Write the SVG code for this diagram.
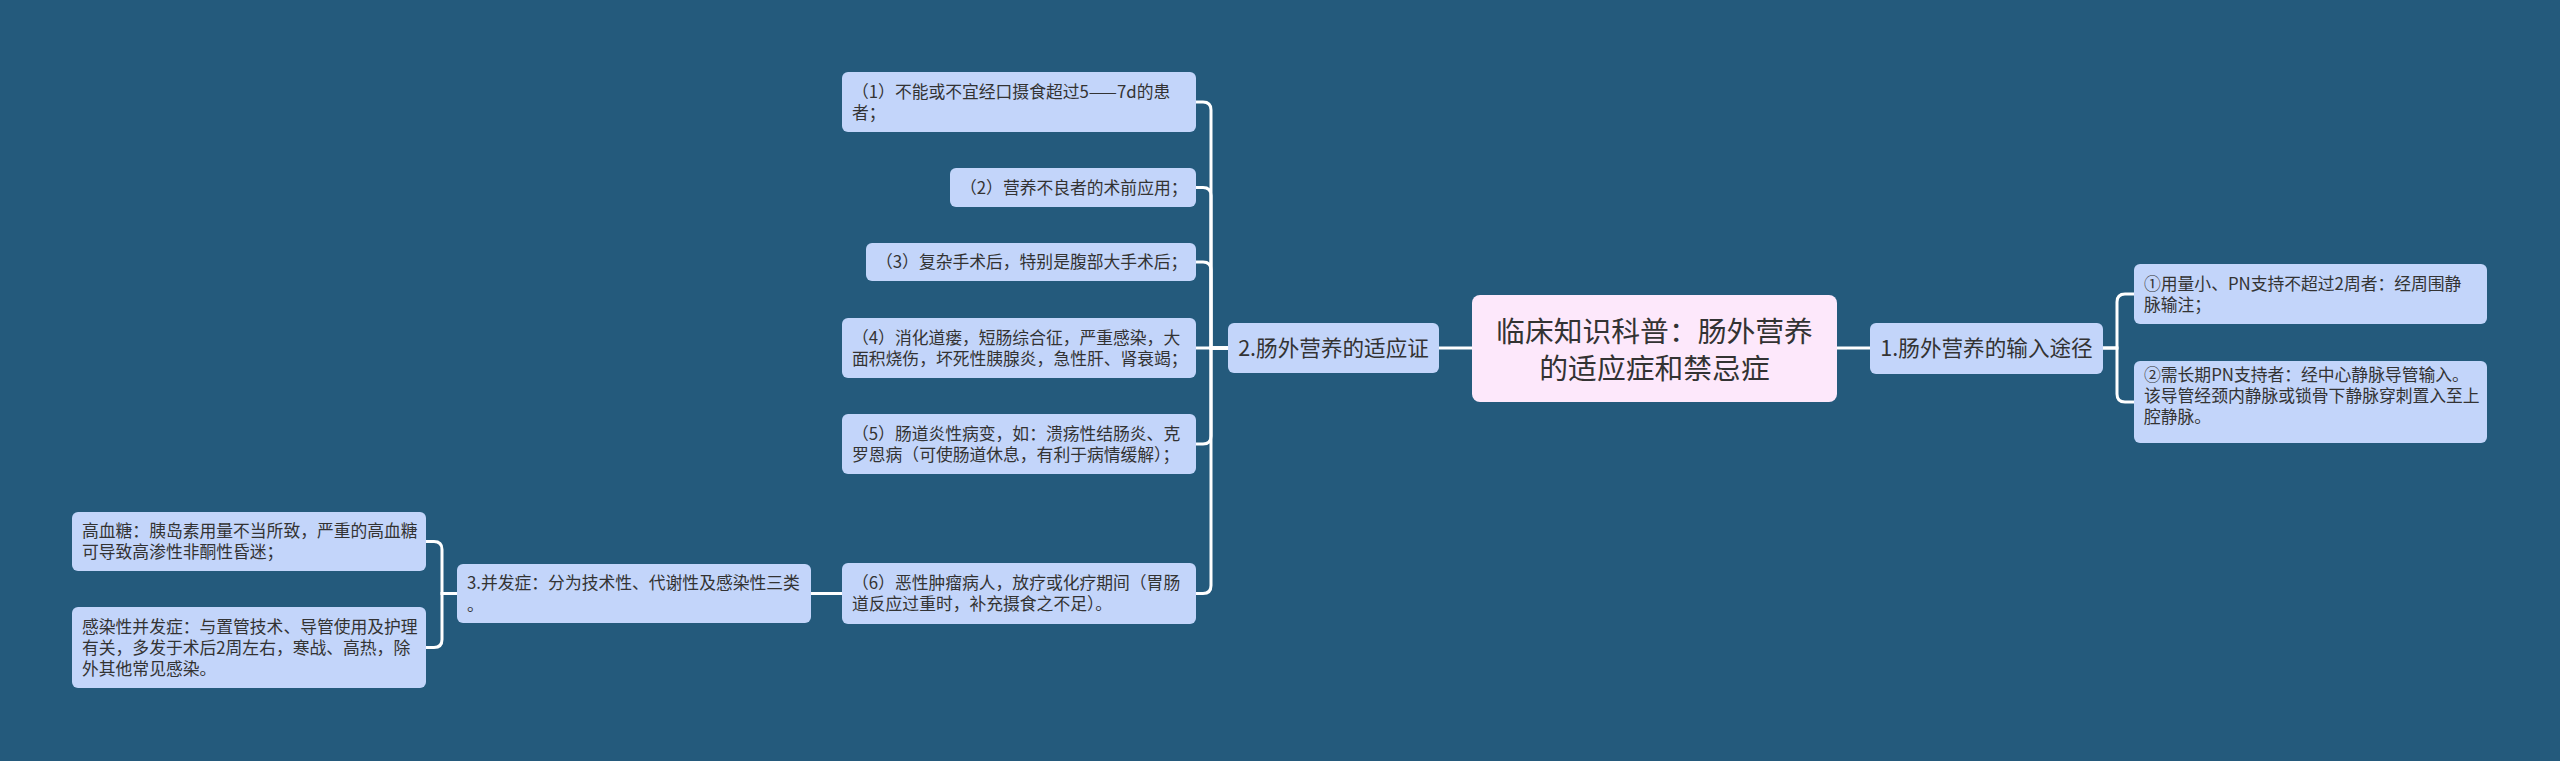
<svg xmlns="http://www.w3.org/2000/svg" width="2560" height="761" viewBox="0 0 2560 761">
<style>
.bg{fill:#245a7c}
.nd{fill:#c3d5fa}
.ct{fill:#fde8fb}
.ln{fill:none;stroke:#ffffff;stroke-width:3;stroke-linecap:round}
text{font-family:"Noto Sans CJK SC","Noto Sans",sans-serif;fill:#333333}
.s{font-size:16.8px}
.m{font-size:21.6px;text-anchor:middle}
.c{font-size:28.8px;text-anchor:middle}
</style>
<rect class="bg" x="0" y="0" width="2560" height="761"/>
<g id="connectors">
<path class="ln" d="M1472 348 H1439"/>
<path class="ln" d="M1837 348 H1870"/>
<path class="ln" d="M2103 348 H2117 V302 Q2117 294 2125 294 H2134"/>
<path class="ln" d="M2103 348 H2117 V394 Q2117 402 2125 402 H2134"/>
<path class="ln" d="M1228 348 H1211 V110 Q1211 102 1203 102 H1196"/>
<path class="ln" d="M1228 348 H1211 V195.5 Q1211 187.5 1203 187.5 H1196"/>
<path class="ln" d="M1228 348 H1211 V270 Q1211 262 1203 262 H1196"/>
<path class="ln" d="M1228 348 H1196"/>
<path class="ln" d="M1228 348 H1211 V436 Q1211 444 1203 444 H1196"/>
<path class="ln" d="M1228 348 H1211 V585.5 Q1211 593.5 1203 593.5 H1196"/>
<path class="ln" d="M842 593.5 H811"/>
<path class="ln" d="M457 593.5 H442 V549.5 Q442 541.5 434 541.5 H426"/>
<path class="ln" d="M457 593.5 H442 V639.5 Q442 647.5 434 647.5 H426"/>
</g>
<g id="root">
<rect class="ct" x="1472" y="295" width="365" height="107" rx="8"/>
<text class="c" x="1654.5"><tspan x="1654.5" y="342">临床知识科普：肠外营养</tspan><tspan x="1654.5" y="379">的适应症和禁忌症</tspan></text>
</g>
<g id="n1">
<rect class="nd" x="1870" y="323" width="233" height="51" rx="6"/>
<text class="m" x="1986.5" y="356">1.肠外营养的输入途径</text>
</g>
<g id="n1a">
<rect class="nd" x="2134" y="264" width="353" height="60" rx="6"/>
<text class="s"><tspan x="2144" y="289.5">①用量小、PN支持不超过2周者：经周围静</tspan><tspan x="2144" y="310.5">脉输注；</tspan></text>
</g>
<g id="n1b">
<rect class="nd" x="2134" y="361" width="353" height="82" rx="6"/>
<text class="s"><tspan x="2144" y="381">②需长期PN支持者：经中心静脉导管输入。</tspan><tspan x="2144" y="402">该导管经颈内静脉或锁骨下静脉穿刺置入至上</tspan><tspan x="2144" y="423">腔静脉。</tspan></text>
</g>
<g id="n2">
<rect class="nd" x="1228" y="323" width="211" height="50" rx="6"/>
<text class="m" x="1333.5" y="356">2.肠外营养的适应证</text>
</g>
<g id="n2a">
<rect class="nd" x="842" y="72" width="354" height="60" rx="6"/>
<text class="s"><tspan x="852" y="97.5">（1）不能或不宜经口摄食超过5——7d的患</tspan><tspan x="852" y="118.5">者；</tspan></text>
</g>
<g id="n2b">
<rect class="nd" x="950" y="168" width="246" height="39" rx="6"/>
<text class="s" x="960" y="193.5">（2）营养不良者的术前应用；</text>
</g>
<g id="n2c">
<rect class="nd" x="866" y="243" width="330" height="38" rx="6"/>
<text class="s" x="876" y="268">（3）复杂手术后，特别是腹部大手术后；</text>
</g>
<g id="n2d">
<rect class="nd" x="842" y="318" width="354" height="60" rx="6"/>
<text class="s"><tspan x="852" y="343.5">（4）消化道瘘，短肠综合征，严重感染，大</tspan><tspan x="852" y="364.5">面积烧伤，坏死性胰腺炎，急性肝、肾衰竭；</tspan></text>
</g>
<g id="n2e">
<rect class="nd" x="842" y="414" width="354" height="60" rx="6"/>
<text class="s"><tspan x="852" y="439.5">（5）肠道炎性病变，如：溃疡性结肠炎、克</tspan><tspan x="852" y="460.5">罗恩病（可使肠道休息，有利于病情缓解）；</tspan></text>
</g>
<g id="n2f">
<rect class="nd" x="842" y="563" width="354" height="61" rx="6"/>
<text class="s"><tspan x="852" y="589">（6）恶性肿瘤病人，放疗或化疗期间（胃肠</tspan><tspan x="852" y="610">道反应过重时，补充摄食之不足）。</tspan></text>
</g>
<g id="n3">
<rect class="nd" x="457" y="564" width="354" height="59" rx="6"/>
<text class="s"><tspan x="467" y="589">3.并发症：分为技术性、代谢性及感染性三类</tspan><tspan x="467" y="611">。</tspan></text>
</g>
<g id="n3a">
<rect class="nd" x="72" y="512" width="354" height="59" rx="6"/>
<text class="s"><tspan x="82" y="537">高血糖：胰岛素用量不当所致，严重的高血糖</tspan><tspan x="82" y="558">可导致高渗性非酮性昏迷；</tspan></text>
</g>
<g id="n3b">
<rect class="nd" x="72" y="607" width="354" height="81" rx="6"/>
<text class="s"><tspan x="82" y="632.5">感染性并发症：与置管技术、导管使用及护理</tspan><tspan x="82" y="653.5">有关，多发于术后2周左右，寒战、高热，除</tspan><tspan x="82" y="674.5">外其他常见感染。</tspan></text>
</g>
</svg>
